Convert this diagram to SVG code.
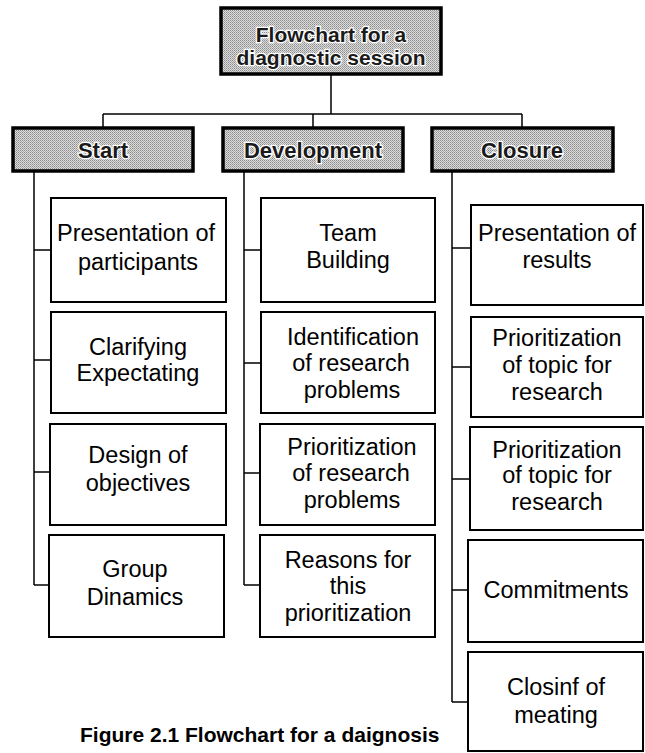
<svg xmlns="http://www.w3.org/2000/svg" width="645" height="753" viewBox="0 0 645 753">
<defs>
<pattern id="ht" width="2" height="2" patternUnits="userSpaceOnUse">
<rect width="2" height="2" fill="#dcdcdc"/>
<rect x="0" y="0" width="1" height="1" fill="#8c8c8c"/>
<rect x="1" y="1" width="1" height="1" fill="#a8a8a8"/>
</pattern>
</defs>
<style>
.bg{fill:#fff}
.hdr{fill:url(#ht);stroke:#000;stroke-width:3.5}
.box{fill:#fff;stroke:#000;stroke-width:2}
.conn{fill:none;stroke:#000;stroke-width:1.5}
.ht{font-family:"Liberation Sans",Arial,sans-serif;font-weight:bold;fill:#1a1a1a;stroke:#fff;stroke-width:2.5;paint-order:stroke;text-anchor:middle}
.bt{font-family:"Liberation Sans",Arial,sans-serif;font-size:23.5px;fill:#000;text-anchor:middle}
.cap{font-family:"Liberation Sans",Arial,sans-serif;font-size:21px;font-weight:bold;fill:#000}
</style>
<rect class="bg" width="645" height="753"/>
<g id="connectors">
<path class="conn" d="M331 74V114M103 114H522M103 114V128M313 114V128M522 114V128"/>
<path class="conn" d="M34 171V585M34 250H51M34 360H51M34 472H51M34 585H51"/>
<path class="conn" d="M244 171V585M244 250H261M244 363H261M244 473H261M244 585H261"/>
<path class="conn" d="M452 172V702M452 248H470M452 367H470M452 479H470M452 590H470M452 702H470"/>
</g>
<g id="title">
<rect class="hdr" x="221" y="8" width="220" height="66"/>
<text class="ht" x="331" y="42" font-size="21">Flowchart for a</text>
<text class="ht" x="331" y="65" font-size="21">diagnostic session</text>
</g>
<g id="start">
<rect class="hdr" x="13" y="128" width="180" height="43"/>
<text class="ht" x="103" y="158" font-size="22">Start</text>
</g>
<g id="development">
<rect class="hdr" x="223" y="128" width="180" height="43"/>
<text class="ht" x="313" y="158" font-size="22">Development</text>
</g>
<g id="closure">
<rect class="hdr" x="432" y="128" width="181" height="43"/>
<text class="ht" x="522" y="158" font-size="22">Closure</text>
</g>
<g id="s1"><rect class="box" x="51" y="198" width="175" height="104"/>
<text class="bt" x="136" y="241">Presentation of</text><text class="bt" x="138" y="270">participants</text></g>
<g id="s2"><rect class="box" x="51" y="312" width="175" height="101"/>
<text class="bt" x="138" y="355">Clarifying</text><text class="bt" x="138" y="381">Expectating</text></g>
<g id="s3"><rect class="box" x="50" y="424" width="176" height="101"/>
<text class="bt" x="138" y="463">Design of</text><text class="bt" x="138" y="491">objectives</text></g>
<g id="s4"><rect class="box" x="49" y="535" width="175" height="102"/>
<text class="bt" x="135" y="577">Group</text><text class="bt" x="135" y="605">Dinamics</text></g>
<g id="d1"><rect class="box" x="261" y="198" width="174" height="104"/>
<text class="bt" x="348" y="241">Team</text><text class="bt" x="348" y="268">Building</text></g>
<g id="d2"><rect class="box" x="261" y="312" width="174" height="101"/>
<text class="bt" x="353" y="345">Identification</text><text class="bt" x="351" y="371">of research</text><text class="bt" x="352" y="398">problems</text></g>
<g id="d3"><rect class="box" x="260" y="424" width="175" height="101"/>
<text class="bt" x="352" y="455">Prioritization</text><text class="bt" x="351" y="481">of research</text><text class="bt" x="352" y="508">problems</text></g>
<g id="d4"><rect class="box" x="260" y="535" width="175" height="102"/>
<text class="bt" x="348" y="568">Reasons for</text><text class="bt" x="348" y="594">this</text><text class="bt" x="348" y="621">prioritization</text></g>
<g id="c1"><rect class="box" x="471" y="205" width="172" height="100"/>
<text class="bt" x="557" y="241">Presentation of</text><text class="bt" x="557" y="268">results</text></g>
<g id="c2"><rect class="box" x="471" y="317" width="172" height="100"/>
<text class="bt" x="557" y="346">Prioritization</text><text class="bt" x="557" y="373">of topic for</text><text class="bt" x="557" y="400">research</text></g>
<g id="c3"><rect class="box" x="470" y="427" width="173" height="103"/>
<text class="bt" x="557" y="458">Prioritization</text><text class="bt" x="557" y="483">of topic for</text><text class="bt" x="557" y="510">research</text></g>
<g id="c4"><rect class="box" x="468" y="540" width="175" height="102"/>
<text class="bt" x="556" y="598">Commitments</text></g>
<g id="c5"><rect class="box" x="468" y="652" width="175" height="99"/>
<text class="bt" x="556" y="695">Closinf of</text><text class="bt" x="556" y="723">meating</text></g>
<g id="caption">
<text class="cap" x="80" y="742">Figure 2.1 Flowchart for a daignosis</text>
</g>
</svg>
